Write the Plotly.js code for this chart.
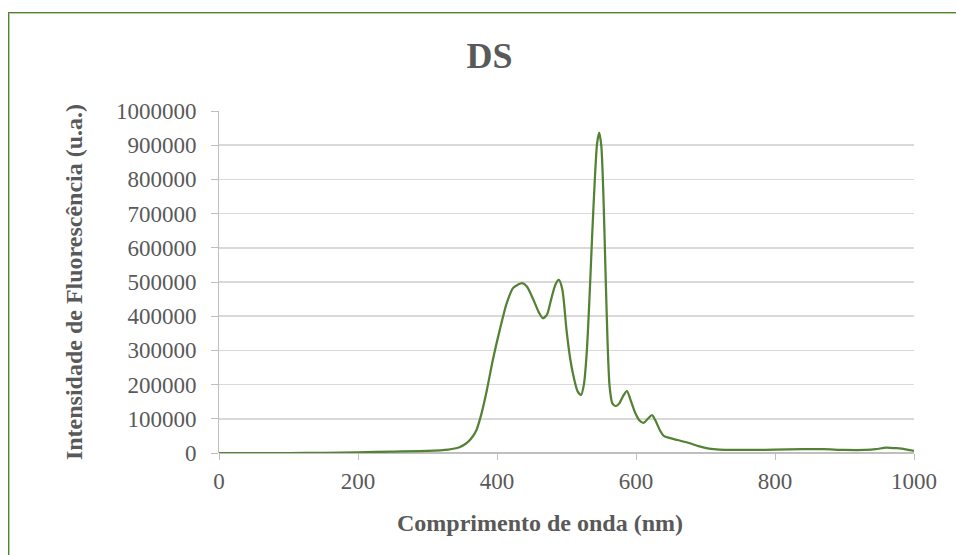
<!DOCTYPE html>
<html>
<head>
<meta charset="utf-8">
<script src="https://cdn.plot.ly/plotly-3.0.1.min.js"></script>
<style>
  html, body { margin: 0; padding: 0; background: #ffffff; overflow: hidden; }
  #chart { width: 956px; height: 555px; }
  #frame {
    position: absolute; left: 8px; top: 12px; width: 1200px; height: 900px;
    border-left: 1px solid #548235; border-top: 1px solid #548235;
    box-shadow: inset 1px 1px 0 #b7cfa0;
    pointer-events: none;
  }
</style>
</head>
<body>
<div id="chart"></div>
<div id="frame"></div>
<script>
// Emission spectrum of sample DS
const wavelength = [0, 50, 100, 150, 200, 250, 300, 330, 345, 355, 362, 370, 377, 385, 394,
  404, 414, 423, 430, 436, 443, 452, 460, 466, 472, 478, 484, 489, 494, 500, 505, 510, 516,
  521, 525, 529, 533, 537, 541, 544, 547, 550, 553, 556, 559, 562, 566, 571, 576, 581, 587,
  593, 599, 605, 611, 617, 623, 628, 634, 640, 648, 660, 675, 690, 705, 720, 740, 770, 800,
  840, 870, 900, 930, 945, 960, 975, 990, 1000];
const intensity = [0, 0, 0, 500, 2000, 4000, 6000, 10000, 16000, 27000, 40000, 65000, 110000,
  180000, 272000, 360000, 438000, 482000, 492000, 497000, 487000, 450000, 412000, 394000,
  405000, 450000, 492000, 506000, 478000, 360000, 280000, 225000, 180000, 170000, 200000,
  290000, 450000, 640000, 810000, 905000, 937000, 900000, 760000, 540000, 330000, 195000,
  145000, 137000, 145000, 165000, 181000, 150000, 117000, 95000, 88000, 100000, 111000,
  95000, 68000, 50000, 44000, 38000, 30000, 20000, 13000, 10000, 9000, 9000, 10000, 11000,
  11000, 9000, 9000, 11000, 16000, 14000, 10000, 6000];

const xTicks = [0, 200, 400, 600, 800, 1000];
const yTicks = [0, 100000, 200000, 300000, 400000, 500000, 600000, 700000, 800000, 900000, 1000000];

const serif = 'Liberation Serif, Times New Roman, serif';
const grey = '#595959';

const trace = {
  x: wavelength,
  y: intensity,
  type: 'scatter',
  mode: 'lines',
  line: { color: '#548235', width: 2.25, shape: 'spline', smoothing: 0.7 },
  hoverinfo: 'x+y'
};

const layout = {
  width: 956,
  height: 555,
  margin: { l: 219, r: 42, t: 111, b: 102 },
  paper_bgcolor: '#ffffff',
  plot_bgcolor: '#ffffff',
  showlegend: false,
  title: {
    text: '<b>DS</b>',
    font: { family: serif, size: 36, color: grey },
    x: 0.512, xanchor: 'center', y: 0.9, yanchor: 'middle'
  },
  xaxis: {
    range: [0, 1000],
    tickvals: xTicks,
    ticktext: xTicks.map(String),
    ticks: 'outside', ticklen: 6, tickcolor: '#bfbfbf', tickwidth: 1,
    ticklabelstandoff: 1,
    showline: false, zeroline: false, showgrid: false,
    tickfont: { family: serif, size: 23, color: grey }
  },
  xaxis2: {
    range: [0, 1000], overlaying: 'x', anchor: 'y', side: 'bottom',
    tickvals: xTicks, showticklabels: false,
    ticks: 'inside', ticklen: 6, tickcolor: '#bfbfbf', tickwidth: 1,
    showline: false, zeroline: false, showgrid: false
  },
  yaxis: {
    range: [0, 1000000],
    tickvals: yTicks,
    ticktext: yTicks.map(String),
    ticks: 'outside', ticklen: 7, tickcolor: '#bfbfbf', tickwidth: 1,
    ticklabelstandoff: 10,
    showline: true, linecolor: '#bfbfbf', linewidth: 1,
    showgrid: true, gridcolor: '#d9d9d9', gridwidth: 1.5,
    zeroline: true, zerolinecolor: '#bfbfbf', zerolinewidth: 1.5,
    tickfont: { family: serif, size: 23, color: grey },
    title: {
      text: '<b>Intensidade de Fluorescência (u.a.)</b>',
      font: { family: serif, size: 24, color: grey },
      standoff: 26
    }
  },
  yaxis2: {
    range: [0, 1000000], overlaying: 'y', anchor: 'x', side: 'left',
    tickvals: yTicks, showticklabels: false,
    ticks: 'inside', ticklen: 7, tickcolor: '#bfbfbf', tickwidth: 1,
    showline: false, zeroline: false, showgrid: false
  },
  annotations: [{
    text: '<b>Comprimento de onda (nm)</b>',
    font: { family: serif, size: 24, color: grey },
    xref: 'paper', yref: 'paper',
    x: 0.462, y: -0.205, xanchor: 'center', yanchor: 'middle',
    showarrow: false
  }]
};

Plotly.newPlot('chart', [trace], layout, { displayModeBar: false, staticPlot: true });
</script>
</body>
</html>
